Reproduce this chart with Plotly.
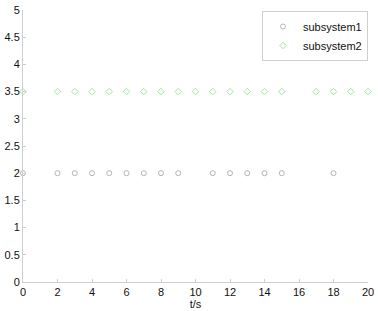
import plotly.graph_objects as go

s1_t = [0, 2, 3, 4, 5, 6, 7, 8, 9, 11, 12, 13, 14, 15, 18]
s1_v = [2] * len(s1_t)
s2_t = [0, 2, 3, 4, 5, 6, 7, 8, 9, 10, 11, 12, 13, 14, 15, 17, 18, 19, 20]
s2_v = [3.5] * len(s2_t)
x_ticks = [0, 2, 4, 6, 8, 10, 12, 14, 16, 18, 20]
y_ticks = [0, 0.5, 1, 1.5, 2, 2.5, 3, 3.5, 4, 4.5, 5]
y_labels = ["0", "0.5", "1", "1.5", "2", "2.5", "3", "3.5", "4", "4.5", "5"]

fig = go.Figure()
fig.add_trace(go.Scatter(x=s1_t, y=s1_v, mode="markers", name="subsystem1",
                         marker=dict(symbol="circle-open", size=5, color="#b4b4b4", line=dict(width=1)),
                         cliponaxis=False))
fig.add_trace(go.Scatter(x=s2_t, y=s2_v, mode="markers", name="subsystem2",
                         marker=dict(symbol="diamond-open", size=5, color="#a8e2a8", line=dict(width=1)),
                         cliponaxis=False))

axis_common = dict(showline=True, linecolor="#cfcfcf", linewidth=1, showgrid=False, zeroline=False,
                   ticks="inside", ticklen=3, tickcolor="#cfcfcf", mirror=False, automargin=False,
                   tickfont=dict(family="Liberation Sans, Arial", size=11, color="#111"))
fig.update_layout(
    width=378, height=311,
    margin=dict(l=23, r=10, t=10, b=29, autoexpand=False),
    paper_bgcolor="white", plot_bgcolor="white",
    font=dict(family="Liberation Sans, Arial", size=11, color="#111"),
    xaxis=dict(range=[0, 20], tickvals=x_ticks, ticklabelstandoff=0, **axis_common,
               title=dict(text="t/s", standoff=0, font=dict(size=11))),
    yaxis=dict(range=[0, 5], tickvals=y_ticks, ticktext=y_labels, ticklabelstandoff=0, **axis_common),
    legend=dict(x=(262 - 23) / 345, y=(282 - 11) / 272, xanchor="left", yanchor="top",
                bordercolor="#cfcfcf", borderwidth=1, bgcolor="white",
                font=dict(size=11), itemwidth=30, tracegroupgap=0),
    showlegend=True,
)
fig.write_html("out.html", config={"displayModeBar": False},
               post_script="document.body.style.margin='0';")
